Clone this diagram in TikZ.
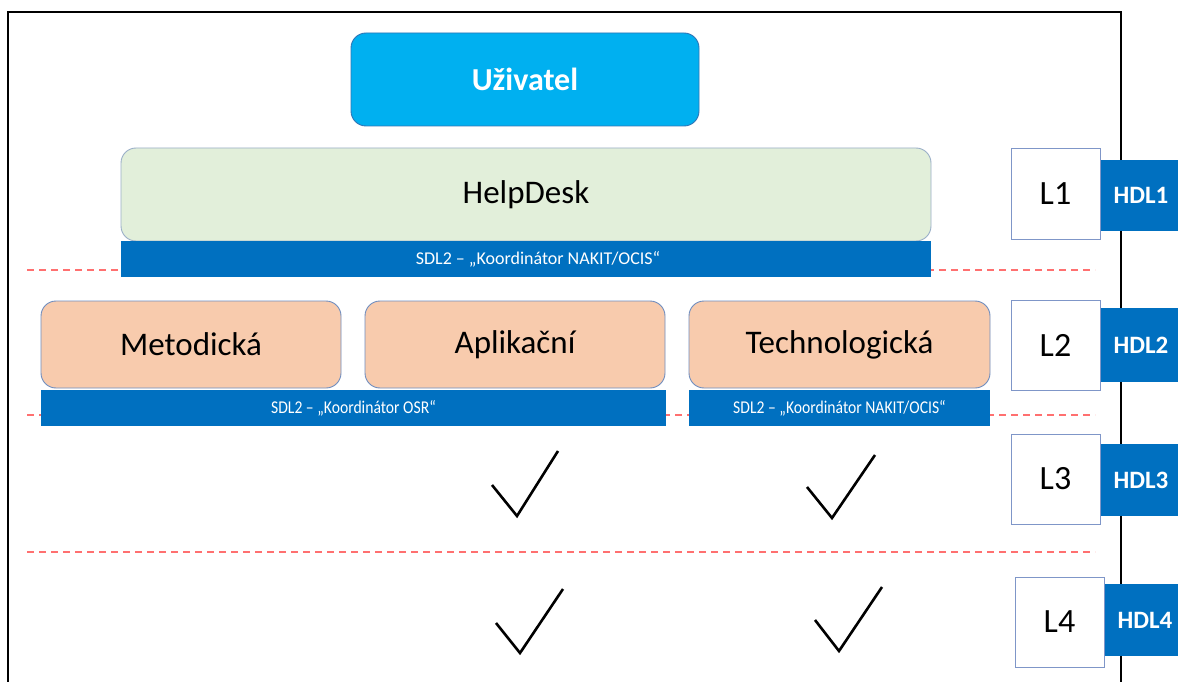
\documentclass[tikz,border=0pt]{standalone}
\usepackage{fontspec}
\setmainfont{Carlito}
\definecolor{usercyan}{HTML}{00B0F0}
\definecolor{userline}{HTML}{2E75B6}
\definecolor{hdgreen}{HTML}{E2EFDA}
\definecolor{hdline}{HTML}{9AAFC8}
\definecolor{catorange}{HTML}{F8CBAD}
\definecolor{catline}{HTML}{6F8DBF}
\definecolor{barblue}{HTML}{0070C0}
\definecolor{lline}{HTML}{7F96C8}
\definecolor{seqred}{HTML}{FF7070}
\begin{document}
\begin{tikzpicture}[x=1pt,y=-1pt,
  rbox/.style={rounded corners=15pt, line width=0.9pt, inner sep=0pt},
  userbox/.style={rbox, draw=userline, fill=usercyan, text=white, font=\bfseries\fontsize{32}{34}\selectfont},
  hdbox/.style={rbox, draw=hdline, fill=hdgreen, font=\fontsize{33}{35}\selectfont},
  catbox/.style={rbox, draw=catline, fill=catorange, font=\fontsize{33}{35}\selectfont, minimum height=87pt},
  bar/.style={fill=barblue, draw=none, inner sep=0pt, minimum height=36pt, text=white, font=\fontsize{18}{20}\selectfont},
  lbox/.style={draw=lline, fill=white, line width=1pt, inner sep=0pt, minimum width=89pt, minimum height=90pt, font=\fontsize{34}{36}\selectfont},
  hdl/.style={fill=barblue, draw=none, inner sep=0pt, minimum width=82pt, text=white, font=\bfseries\fontsize{25}{27}\selectfont},
  sepline/.style={draw=seqred, line width=1.8pt, dash pattern=on 7pt off 5pt},
  tick/.style={line width=2.6pt, line join=miter}
]
\useasboundingbox (0,0) rectangle (1178,682);
\fill[white] (0,0) rectangle (1178,682);
% frame
\draw[line width=2.5pt] (8,682) -- (8,12) -- (1121,12) -- (1121,682);
% separators
\draw[sepline] (27,270) -- (1095,270);
\draw[sepline] (27,415) -- (1095,415);
\draw[sepline] (27,552) -- (1095,552);
% top boxes
\node[userbox, minimum width=348pt, minimum height=93pt] (user) at (525,79.5) {Uživatel};
\node[hdbox, minimum width=810pt, minimum height=93pt] (hd) at (526,194.5) {HelpDesk};
\node[bar, minimum width=810pt] (bar1) at (526,259) {\hspace*{24pt}SDL2 – „Koordinátor NAKIT/OCIS“};
% categories
\node[catbox, minimum width=300pt] (met) at (191,344.5) {Metodická};
\node[catbox, minimum width=300pt] (apl) at (515,344.5) {Aplikační};
\node[catbox, minimum width=301pt] (tech) at (839.5,344.5) {Technologická};
\node[bar, minimum width=625pt] (bar2) at (353.5,408) {\scalebox{0.87}[1]{SDL2 – „Koordinátor OSR“}};
\node[bar, minimum width=301pt] (bar3) at (839.5,408) {\scalebox{0.87}[1]{SDL2 – „Koordinátor NAKIT/OCIS“}};
% levels
\node[hdl, minimum height=71pt] (hdl1) at (1141,195.5) {HDL1};
\node[hdl, minimum height=74pt] (hdl2) at (1141,345) {HDL2};
\node[hdl, minimum height=72pt] (hdl3) at (1141,480) {HDL3};
\node[hdl, minimum height=72pt] (hdl4) at (1145,620) {HDL4};
\node[lbox] (l1) at (1055.5,194) {L1};
\node[lbox] (l2) at (1055.5,345.5) {L2};
\node[lbox] (l3) at (1055.5,479) {L3};
\node[lbox] (l4) at (1059.5,622) {L4};
% checkmarks
\draw[tick] (492,485) -- (517,516) -- (558,451);
\draw[tick] (807,487) -- (832,518) -- (875,455);
\draw[tick] (496,623) -- (520,653) -- (563,589);
\draw[tick] (815,620) -- (839,651) -- (882,587);
\end{tikzpicture}
\end{document}
